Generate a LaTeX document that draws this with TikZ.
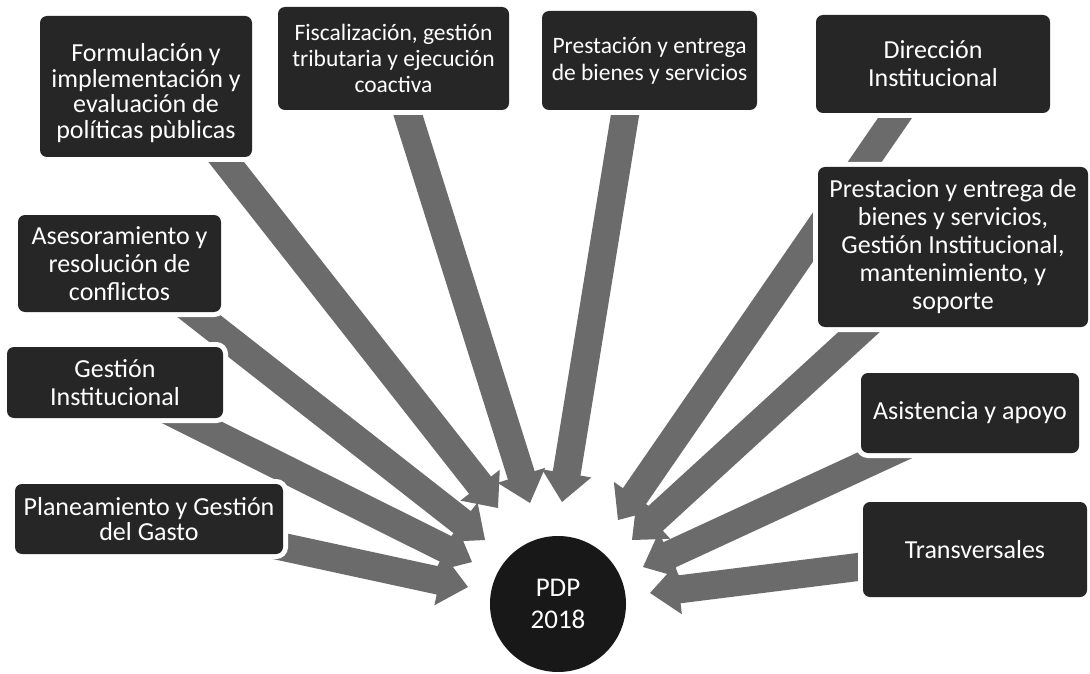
\documentclass[tikz,border=0pt]{standalone}
\usepackage{fontspec}
\setmainfont{Carlito}
\usetikzlibrary{calc}
\definecolor{boxfill}{HTML}{262626}
\definecolor{arrowfill}{HTML}{6B6B6B}
\definecolor{circfill}{HTML}{181818}
\tikzset{
  box/.style={rectangle, rounded corners=7pt, fill=boxfill, text=white, align=center,
    font=\fontsize{26pt}{28pt}\selectfont, inner sep=0pt,
    preaction={draw=white, line width=10pt}},
  smallbox/.style={box, font=\fontsize{23.5pt}{26pt}\selectfont},
  fat/.style={fill=arrowfill},
}
\newcommand{\fatarrow}[2]{%
  \fill[fat] let \p1=(#1), \p2=(#2), \n1={atan2(\y2-\y1,\x2-\x1)} in
    ($(\p1)+(\n1+90:14pt)$) -- ($(\p2)+(\n1+180:29pt)+(\n1+90:14pt)$)
    -- ($(\p2)+(\n1+180:29pt)+(\n1+90:25pt)$) -- (\p2)
    -- ($(\p2)+(\n1+180:29pt)+(\n1-90:25pt)$) -- ($(\p2)+(\n1+180:29pt)+(\n1-90:14pt)$)
    -- ($(\p1)+(\n1-90:14pt)$) -- cycle;
}
\begin{document}
\begin{tikzpicture}[x=1pt,y=-1pt]
\fill[white] (0,0) rectangle (1090,674);
\useasboundingbox (0,0) rectangle (1090,674);
% exit points and tips
\coordinate (e1) at (227,163);  \coordinate (p1) at (498,508);
\coordinate (e2) at (408,115);  \coordinate (p2) at (530,503);
\coordinate (e3) at (625,115);  \coordinate (p3) at (562,502);
\coordinate (e4) at (895,118);  \coordinate (p4) at (618,520);
\coordinate (e5) at (858,333);  \coordinate (p5) at (632,540);
\coordinate (e6) at (200,317);  \coordinate (p6) at (485,540);
\coordinate (e7) at (193,423);  \coordinate (p7) at (472,562);
\coordinate (e8) at (288,548);  \coordinate (p8) at (468,587);
\coordinate (e9) at (879,458);  \coordinate (p9) at (643,567);
\coordinate (e10) at (858,567); \coordinate (p10) at (650,593);
\foreach \i in {1,...,10}{\coordinate (t\i) at ($(e\i)!-40pt!(p\i)$);}
% arrows
\fatarrow{t1}{p1}
\fatarrow{t2}{p2}
\fatarrow{t3}{p3}
\fatarrow{t4}{p4}
\fatarrow{t5}{p5}
\fatarrow{t6}{p6}
\fatarrow{t7}{p7}
\fatarrow{t8}{p8}
\fatarrow{t9}{p9}
\fatarrow{t10}{p10}
% boxes
\node[box, font=\fontsize{26pt}{25.5pt}\selectfont, minimum width=212pt, minimum height=141pt] (b1) at (146,86.5)
  {\raisebox{0pt}[26pt][0pt]{}\\[-20pt]Formulación y\\implementación y\\evaluación de\\políticas pùblicas};
\node[smallbox, minimum width=231pt, minimum height=103pt] (b2) at (393.5,58.5)
  {Fiscalización, gestión\\tributaria y ejecución\\coactiva};
\node[smallbox, font=\fontsize{23.5pt}{27pt}\selectfont, minimum width=215pt, minimum height=99pt] (b3) at (649.5,60.5)
  {Prestación y entrega\\de bienes y servicios};
\node[box, minimum width=234pt, minimum height=98pt] (b4) at (933,64)
  {Dirección\\Institucional};
\node[box, minimum width=270pt, minimum height=160pt] (b5) at (953,247)
  {Prestacion y entrega de\\bienes y servicios,\\Gestión Institucional,\\mantenimiento, y\\soporte};
\node[box, minimum width=203pt, minimum height=97pt] (b6) at (119.5,263.5)
  {Asesoramiento y\\resolución de\\conflictos};
\node[box, minimum width=216pt, minimum height=71pt] (b7) at (115,382.5)
  {Gestión\\Institucional};
\node[box, font=\fontsize{26pt}{25.5pt}\selectfont, minimum width=268pt, minimum height=70pt] (b8) at (149,519)
  {Planeamiento y Gestión\\del Gasto};
\node[box, minimum width=218pt, minimum height=80pt] (b9) at (970,413)
  {Asistencia y apoyo};
\node[box, minimum width=224pt, minimum height=95pt] (b10) at (975,549.5)
  {Transversales};
% centre
\node[circle, fill=circfill, minimum size=136pt, inner sep=0pt, text=white, align=center,
  font=\fontsize{27pt}{32pt}\selectfont] (pdp) at (558,604) {PDP\\2018};
\end{tikzpicture}
\end{document}
